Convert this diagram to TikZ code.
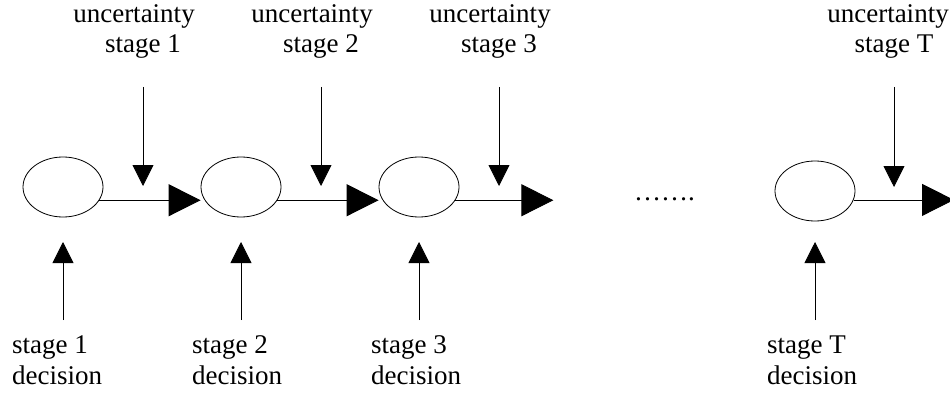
\documentclass[tikz,border=0pt]{standalone}
\usepackage{fontspec}
\setmainfont{Liberation Serif}
\usetikzlibrary{arrows.meta}
\usetikzlibrary{shapes.geometric}

\tikzset{
  stagenode/.style={draw, ellipse, minimum width=80pt, minimum height=60pt, inner sep=0pt, line width=0.8pt},
  flow/.style={-{Triangle[length=32pt,width=32pt]}, line width=0.8pt},
  feed/.style={-{Triangle[length=21pt,width=21pt]}, line width=0.8pt},
  lbl/.style={inner sep=0pt, font=\fontsize{27}{30.5}\selectfont},
}

\begin{document}
\begin{tikzpicture}[x=1pt,y=-1pt]
		\useasboundingbox (0,0) rectangle (950,393);
		% stages
		\node[stagenode] (e1) at (63,187) {};
		\node[stagenode] (e2) at (241,187) {};
		\node[stagenode] (e3) at (419,187) {};
		\node[stagenode] (eT) at (815,191) {};
		\node[lbl, anchor=base west] (dots) at (634,200) {…….};
		\coordinate (endT) at (954,200);
		\draw[flow] (e1.-20) -- (e1.-20 -| e2.west);
		\draw[flow] (e2.-20) -- (e2.-20 -| e3.west);
		\draw[flow] (e3.-20) -- ++(98,0);
		\draw[flow] (eT.-13) -- (eT.-13 -| endT);
		
		% uncertainty (base = last line)
		\node[lbl, align=center, anchor=base] (u1) at (143,53) {uncertainty\hspace*{18pt}\\stage 1};
		\node[lbl, align=center, anchor=base] (u2) at (321,53) {uncertainty\hspace*{18pt}\\stage 2};
		\node[lbl, align=center, anchor=base] (u3) at (499,53) {uncertainty\hspace*{18pt}\\stage 3};
		\node[lbl, align=center, anchor=base] (uT) at (894,53) {uncertainty\hspace*{12pt}\\stage T};
		\coordinate (u1top) at (143,87);
		\coordinate (u2top) at (321,87);
		\coordinate (u3top) at (499,87);
		\coordinate (uTtop) at (894,87);
		\draw[feed] (u1top) -- ++(0,99);
		\draw[feed] (u2top) -- ++(0,99);
		\draw[feed] (u3top) -- ++(0,99);
		\draw[feed] (uTtop) -- ++(0,100);
		
		% decisions
		\node[lbl, align=left, anchor=base west] (d1) at (12,384) {stage 1\\decision};
		\node[lbl, align=left, anchor=base west] (d2) at (192,384) {stage 2\\decision};
		\node[lbl, align=left, anchor=base west] (d3) at (371,384) {stage 3\\decision};
		\node[lbl, align=left, anchor=base west] (dT) at (767,384) {stage T\\decision};
		\coordinate (d1bot) at (63,320);
		\coordinate (d2bot) at (241,320);
		\coordinate (d3bot) at (419,320);
		\coordinate (dTbot) at (815,320);
		\draw[feed] (d1bot) -- (d1bot |- 0,242);
		\draw[feed] (d2bot) -- (d2bot |- 0,242);
		\draw[feed] (d3bot) -- (d3bot |- 0,242);
		\draw[feed] (dTbot) -- (dTbot |- 0,242);
		
		\end{tikzpicture}
\end{document}
